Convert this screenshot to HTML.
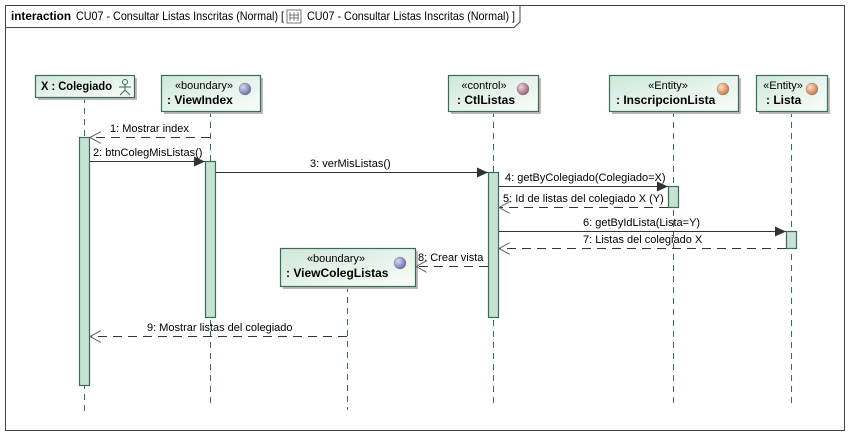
<!DOCTYPE html>
<html><head><meta charset="utf-8"><style>
html,body{margin:0;padding:0;background:#fff;}
svg{display:block;}
text{font-family:"Liberation Sans",Arial,sans-serif;fill:#000;}
</style></head><body>
<svg width="851" height="436" viewBox="0 0 851 436" xmlns="http://www.w3.org/2000/svg">
<defs>
<linearGradient id="g" x1="0" y1="0" x2="1" y2="1">
<stop offset="0" stop-color="#cfe8da"/><stop offset="1" stop-color="#fafdfb"/>
</linearGradient>
<radialGradient id="bd" cx="0.35" cy="0.35" r="0.7"><stop offset="0" stop-color="#d8d8f0"/><stop offset="1" stop-color="#6868a8"/></radialGradient>
<radialGradient id="ct" cx="0.35" cy="0.35" r="0.7"><stop offset="0" stop-color="#ecd4dc"/><stop offset="1" stop-color="#945a72"/></radialGradient>
<radialGradient id="en" cx="0.35" cy="0.35" r="0.7"><stop offset="0" stop-color="#fde0c8"/><stop offset="1" stop-color="#c8703a"/></radialGradient>
<marker id="af" markerWidth="12" markerHeight="10" refX="11" refY="5" orient="auto" markerUnits="userSpaceOnUse"><path d="M0,0 L11,5 L0,10 Z" fill="#333"/></marker>
<marker id="ao" markerWidth="12" markerHeight="12" refX="11" refY="6" orient="auto" markerUnits="userSpaceOnUse"><path d="M0,0 L11,6 L0,12" fill="none" stroke="#666" stroke-width="1"/></marker>
</defs>
<rect x="5.5" y="5.5" width="839" height="425" fill="#fff" stroke="#444" stroke-width="1"/>
<path d="M5.5,27.5 H514 L520,22 V5.5" fill="none" stroke="#444"/>
<text x="11" y="20" font-size="12" font-weight="bold" textLength="60" lengthAdjust="spacingAndGlyphs">interaction</text>
<text x="76" y="20" font-size="12" textLength="208" lengthAdjust="spacingAndGlyphs">CU07 - Consultar Listas Inscritas (Normal) [</text>
<rect x="287" y="10" width="14" height="13" fill="#fff" stroke="#555" stroke-width="0.8"/>
<path d="M290,12 V21 M294,12 V21 M298,12 V21 M289,15 H299 M289,18 H299" stroke="#555" stroke-width="0.7"/>
<text x="307" y="20" font-size="12" textLength="208" lengthAdjust="spacingAndGlyphs">CU07 - Consultar Listas Inscritas (Normal) ]</text>

<g stroke="#3d6b57" stroke-dasharray="6,5" stroke-width="1">
<line x1="84.5" y1="97" x2="84.5" y2="411"/>
<line x1="210.5" y1="111" x2="210.5" y2="408"/>
<line x1="493.5" y1="111" x2="493.5" y2="408"/>
<line x1="673.5" y1="111" x2="673.5" y2="408"/>
<line x1="791.5" y1="111" x2="791.5" y2="408"/>
<line x1="347.5" y1="286" x2="347.5" y2="410"/>
</g>

<g stroke="#3d6b57" stroke-width="1.2">
<rect x="38" y="78" width="99" height="22" fill="#bbb" stroke="none"/>
<rect x="35.5" y="75.5" width="99" height="22" fill="url(#g)"/>
<rect x="164" y="78" width="99" height="36" fill="#bbb" stroke="none"/>
<rect x="161.5" y="75.5" width="99" height="36" fill="url(#g)"/>
<rect x="451" y="78" width="90" height="36" fill="#bbb" stroke="none"/>
<rect x="448.5" y="75.5" width="90" height="36" fill="url(#g)"/>
<rect x="612" y="78" width="129" height="36" fill="#bbb" stroke="none"/>
<rect x="609.5" y="75.5" width="129" height="36" fill="url(#g)"/>
<rect x="759" y="78" width="71" height="36" fill="#bbb" stroke="none"/>
<rect x="756.5" y="75.5" width="71" height="36" fill="url(#g)"/>
<rect x="283" y="251" width="135" height="38" fill="#bbb" stroke="none"/>
<rect x="280.5" y="248.5" width="135" height="38" fill="url(#g)"/>
</g>
<g font-size="12">
<text x="41" y="90" font-weight="bold" textLength="71" lengthAdjust="spacingAndGlyphs">X : Colegiado</text>
<g stroke="#3d6b57" fill="none" stroke-width="1"><circle cx="125" cy="82" r="2.5"/><path d="M119,87 H131 M125,85 V90 L120,95 M125,90 L130,95"/></g>
<text x="204" y="89" font-size="11" text-anchor="middle">«boundary»</text>
<text x="167" y="104" font-weight="bold">: ViewIndex</text>
<circle cx="245" cy="89" r="6" fill="url(#bd)" stroke="#888" stroke-width="0.5"/>
<text x="484" y="89" font-size="11" text-anchor="middle">«control»</text>
<text x="457" y="104" font-weight="bold">: CtlListas</text>
<circle cx="523" cy="89" r="6" fill="url(#ct)" stroke="#888" stroke-width="0.5"/>
<text x="668" y="89" font-size="11" text-anchor="middle">«Entity»</text>
<text x="616" y="104" font-weight="bold">: InscripcionLista</text>
<circle cx="723" cy="89" r="6" fill="url(#en)" stroke="#888" stroke-width="0.5"/>
<text x="783" y="89" font-size="11" text-anchor="middle">«Entity»</text>
<text x="766" y="104" font-weight="bold">: Lista</text>
<circle cx="812" cy="89" r="6" fill="url(#en)" stroke="#888" stroke-width="0.5"/>
<text x="336" y="262" font-size="11" text-anchor="middle">«boundary»</text>
<text x="286" y="277" font-weight="bold">: ViewColegListas</text>
<circle cx="400" cy="263" r="6" fill="url(#bd)" stroke="#888" stroke-width="0.5"/>
</g>

<g fill="#c4e3d3" stroke="#3d6b57" stroke-width="1.2">
<rect x="79.5" y="137.5" width="10" height="248"/>
<rect x="205.5" y="161.5" width="10" height="156"/>
<rect x="488.5" y="172.5" width="10" height="145"/>
<rect x="668.5" y="186.5" width="10" height="21"/>
<rect x="786.5" y="231.5" width="10" height="17"/>
</g>

<g stroke-width="1">
<line x1="210" y1="137.5" x2="90" y2="137.5" stroke="#333" stroke-dasharray="9,6" marker-end="url(#ao)"/>
<line x1="90" y1="161.5" x2="205" y2="161.5" stroke="#333" marker-end="url(#af)"/>
<line x1="216" y1="172.5" x2="488" y2="172.5" stroke="#333" marker-end="url(#af)"/>
<line x1="499" y1="186.5" x2="668" y2="186.5" stroke="#333" marker-end="url(#af)"/>
<line x1="668" y1="207.5" x2="499" y2="207.5" stroke="#333" stroke-dasharray="9,6" marker-end="url(#ao)"/>
<line x1="499" y1="231.5" x2="786" y2="231.5" stroke="#333" marker-end="url(#af)"/>
<line x1="786" y1="248.5" x2="499" y2="248.5" stroke="#333" stroke-dasharray="9,6" marker-end="url(#ao)"/>
<line x1="488" y1="266.5" x2="416" y2="266.5" stroke="#333" stroke-dasharray="9,6" marker-end="url(#ao)"/>
<line x1="347" y1="336.5" x2="90" y2="336.5" stroke="#333" stroke-dasharray="9,6" marker-end="url(#ao)"/>
</g>
<g font-size="11">
<text x="110" y="132">1: Mostrar index</text>
<text x="93" y="156">2: btnColegMisListas()</text>
<text x="310" y="167">3: verMisListas()</text>
<text x="505" y="181">4: getByColegiado(Colegiado=X)</text>
<text x="503" y="202">5: Id de listas del colegiado X (Y)</text>
<text x="583" y="226">6: getByIdLista(Lista=Y)</text>
<text x="583" y="243">7: Listas del colegiado X</text>
<text x="418" y="261">8: Crear vista</text>
<text x="147" y="331">9: Mostrar listas del colegiado</text>
</g>
</svg>
</body></html>
